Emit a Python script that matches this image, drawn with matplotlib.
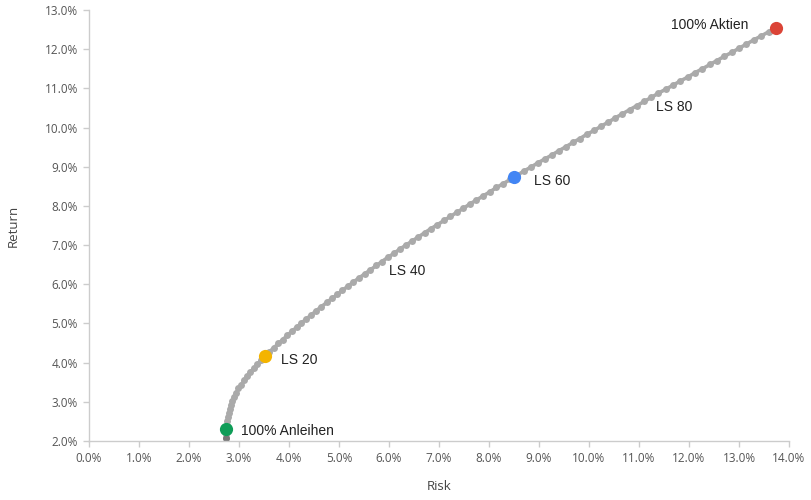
import matplotlib
matplotlib.use("Agg")
import matplotlib.pyplot as plt
from matplotlib.ticker import FuncFormatter, MultipleLocator

# efficient frontier, one dot per 1% step from bonds to equities (values in %)
risk = [
    2.75, 2.75, 2.76, 2.76, 2.77, 2.78, 2.80, 2.82, 2.84, 2.87,
    2.91, 2.95, 2.99, 3.05, 3.10, 3.16, 3.23, 3.30, 3.37, 3.45,
    3.53, 3.61, 3.70, 3.79, 3.88, 3.97, 4.06, 4.16, 4.25, 4.35,
    4.45, 4.55, 4.65, 4.76, 4.86, 4.97, 5.07, 5.18, 5.29, 5.40,
    5.52, 5.63, 5.75, 5.86, 5.98, 6.10, 6.22, 6.34, 6.47, 6.59,
    6.72, 6.84, 6.97, 7.10, 7.23, 7.36, 7.49, 7.62, 7.75, 7.89,
    8.02, 8.15, 8.29, 8.43, 8.56, 8.70, 8.84, 8.98, 9.12, 9.26,
    9.40, 9.54, 9.68, 9.82, 9.96, 10.11, 10.25, 10.39, 10.53, 10.67,
    10.82, 10.96, 11.11, 11.25, 11.39, 11.54, 11.68, 11.83, 11.98, 12.12,
    12.27, 12.42, 12.56, 12.71, 12.86, 13.01, 13.15, 13.30, 13.45, 13.60,
    13.75,
]
returns = [
    2.08, 2.18, 2.29, 2.39, 2.50, 2.60, 2.71, 2.81, 2.92, 3.02,
    3.13, 3.23, 3.34, 3.44, 3.55, 3.65, 3.76, 3.86, 3.96, 4.07,
    4.17, 4.28, 4.38, 4.49, 4.59, 4.70, 4.80, 4.91, 5.01, 5.12,
    5.22, 5.33, 5.43, 5.54, 5.64, 5.74, 5.85, 5.95, 6.06, 6.16,
    6.27, 6.37, 6.48, 6.58, 6.69, 6.79, 6.90, 7.00, 7.11, 7.21,
    7.32, 7.42, 7.52, 7.63, 7.73, 7.84, 7.94, 8.05, 8.15, 8.26,
    8.36, 8.47, 8.57, 8.68, 8.78, 8.89, 8.99, 9.10, 9.20, 9.30,
    9.41, 9.51, 9.62, 9.72, 9.83, 9.93, 10.04, 10.14, 10.25, 10.35,
    10.46, 10.56, 10.67, 10.77, 10.88, 10.98, 11.08, 11.19, 11.29, 11.40,
    11.50, 11.61, 11.71, 11.82, 11.92, 12.03, 12.13, 12.24, 12.34, 12.45,
    12.55,
]

# highlighted portfolios
hl_names = ["100% Anleihen", "LS 20", "LS 60", "100% Aktien"]
hl_risk = [2.75, 3.53, 8.51, 13.75]
hl_return = [2.31, 4.17, 8.74, 12.55]
hl_colors = ["#0f9d58", "#f4b400", "#4285f4", "#db4437"]

# label positions (data coords) and alignment
lbl_text = ["100% Anleihen", "LS 20", "LS 40", "LS 60", "LS 80", "100% Aktien"]
lbl_x = [3.04, 3.84, 6.0, 8.9, 11.34, 13.18]
lbl_y = [2.25, 4.07, 6.34, 8.64, 10.52, 12.62]
lbl_ha = ["left", "left", "left", "left", "left", "right"]

fig = plt.figure(figsize=(8.12, 5), dpi=100)
ax = fig.add_axes([89 / 812, 59 / 500, 700 / 812, 431 / 500])

ax.plot(risk, returns, color="#aaaaaa", linewidth=2.6, marker="o",
        markersize=5, markerfacecolor="#aaaaaa", markeredgewidth=0, zorder=2)
ax.plot(risk[0], returns[0], "o", color="#777777", markersize=5,
        markeredgewidth=0, zorder=2)
for x, y, c in zip(hl_risk, hl_return, hl_colors):
    ax.plot(x, y, "o", color=c, markersize=9.5, markeredgewidth=0, zorder=3)

for t, x, y, ha in zip(lbl_text, lbl_x, lbl_y, lbl_ha):
    ax.text(x, y, t, ha=ha, va="center", fontsize=10, color="#222222",
            family="Liberation Sans")

ax.set_xlim(0, 14)
ax.set_ylim(2, 13)
ax.xaxis.set_major_locator(MultipleLocator(1))
ax.yaxis.set_major_locator(MultipleLocator(1))
pct = FuncFormatter(lambda v, p: f"{v:.1f}%")
ax.xaxis.set_major_formatter(pct)
ax.yaxis.set_major_formatter(pct)

for s in ["top", "right"]:
    ax.spines[s].set_visible(False)
for s in ["left", "bottom"]:
    ax.spines[s].set_color("#cccccc")
    ax.spines[s].set_linewidth(1)
ax.tick_params(axis="both", length=4, width=1, color="#cccccc",
               labelcolor="#555555", labelsize=8.5, pad=4)
for lab in ax.get_xticklabels() + ax.get_yticklabels():
    lab.set_family("Open Sans")

ax.set_xlabel("Risk", fontsize=9.5, color="#444444", family="Open Sans", labelpad=11)
ax.set_ylabel("Return", fontsize=9.5, color="#444444", family="Open Sans", labelpad=18)

fig.savefig("out.png", dpi=100)
